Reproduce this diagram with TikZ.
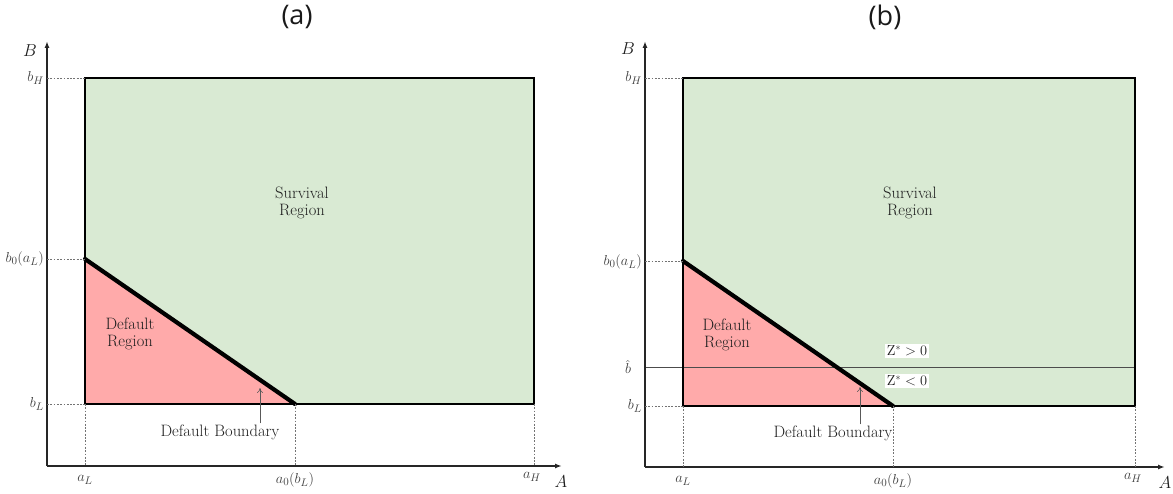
\documentclass[tikz,border=0pt]{standalone}
\usepackage{fontspec}
\newfontfamily\titlefont{Open Sans}
\usetikzlibrary{arrows.meta}
\definecolor{survgreen}{HTML}{D9EAD3}
\definecolor{defpink}{HTML}{FFAAAA}
\definecolor{txtgray}{HTML}{1E1E1E}
\tikzset{
  axisline/.style={line width=2pt, draw=black!85, -{Latex[length=7pt,width=5pt]}},
  guide/.style={draw=black!55, line width=0.6pt, dash pattern=on 1.8pt off 1.5pt},
  rectborder/.style={draw=black, line width=1.6pt},
  boundary/.style={draw=black, line width=4.2pt, line cap=round},
  lab/.style={text=txtgray!85, font=\fontsize{15}{17}\selectfont, inner sep=1pt},
  axlab/.style={text=txtgray, font=\fontsize{19}{21}\selectfont, inner sep=1pt},
  regionlab/.style={text=txtgray, font=\fontsize{16.5}{17.5}\selectfont, align=center, inner sep=1pt},
  ptr/.style={draw=black!65, line width=0.6pt, -{To[length=5pt,width=6pt]}},
  ttl/.style={font=\titlefont\fontsize{27}{29}\selectfont, text=black!90},
  zlab/.style={text=txtgray, fill=white, font=\fontsize{14.5}{16}\selectfont, inner sep=1.5pt}
}
\begin{document}
\begin{tikzpicture}[x=1pt,y=-1pt]
\useasboundingbox (0,0) rectangle (1173,494);
% ---------------- panel (a) ----------------
\node[ttl] (ta) at (297,17) {(a)};
\coordinate (aO) at (47,466);
\coordinate (aYtip) at (47,41);
\coordinate (aXtip) at (562,466);
\coordinate (aLL) at (85,404);
\coordinate (aUL) at (85,78);
\coordinate (aUR) at (534,78);
\coordinate (aLR) at (534,404);
\coordinate (aB0) at (85,259);
\coordinate (aA0) at (295,404);
\fill[survgreen] (aLL) rectangle (aUR);
\fill[defpink] (aLL) -- (aB0) -- (aA0) -- cycle;
\draw[rectborder] (aLL) rectangle (aUR);
\draw[boundary] (aB0) -- (aA0);
% axes
\draw[axisline] (aO) -- (aYtip);
\draw[axisline] (aO) -- (aXtip);
% guides
\coordinate (aYbH) at (47,78);
\coordinate (aYb0) at (47,259);
\coordinate (aYbL) at (47,404);
\coordinate (aXaL) at (85,466);
\coordinate (aXa0) at (295,466);
\coordinate (aXaH) at (534,466);
\draw[guide] (aYbH) -- (aUL);
\draw[guide] (aYb0) -- (aB0);
\draw[guide] (aYbL) -- (aLL);
\draw[guide] (aLL) -- (aXaL);
\draw[guide] (aA0) -- (aXa0);
\draw[guide] (aLR) -- (aXaH);
% labels
\node[axlab] (aBl) at (30,51) {$B$};
\node[axlab] (aAl) at (561,482) {$A$};
\node[lab, anchor=east] (abH) at (45,78) {$b_H$};
\node[lab, anchor=east] (ab0) at (45,259) {$b_0(a_L)$};
\node[lab, anchor=east] (abL) at (45,404) {$b_L$};
\node[lab] (aaL) at (85,480) {$a_L$};
\node[lab] (aa0) at (295,480) {$a_0(b_L)$};
\node[lab] (aaH) at (532,477) {$a_H$};
\node[regionlab] (asurv) at (302,203) {Survival\\Region};
\node[regionlab] (adef) at (130,334) {Default\\Region};
\node[regionlab] (adb) at (220,432) {Default Boundary};
\coordinate (aptr) at (260,388);
\draw[ptr] (adb.north -| aptr) -- (aptr);
% ---------------- panel (b) ----------------
\node[ttl] (tb) at (885,17) {(b)};
\coordinate (bO) at (645,467);
\coordinate (bYtip) at (645,41);
\coordinate (bXtip) at (1165,467);
\coordinate (bLL) at (683,406);
\coordinate (bUL) at (683,78);
\coordinate (bUR) at (1135,78);
\coordinate (bLR) at (1135,406);
\coordinate (bB0) at (683,261);
\coordinate (bA0) at (893,406);
\fill[survgreen] (bLL) rectangle (bUR);
\fill[defpink] (bLL) -- (bB0) -- (bA0) -- cycle;
% b-hat line
\coordinate (bYhat) at (645,367);
\coordinate (bRhat) at (1135,367);
\draw[black!70, line width=0.7pt] (bYhat) -- (bRhat);
\draw[rectborder] (bLL) rectangle (bUR);
\draw[boundary] (bB0) -- (bA0);
\draw[axisline, line width=1.6pt] (bO) -- (bYtip);
\draw[axisline, line width=1.6pt] (bO) -- (bXtip);
\coordinate (bYbH) at (645,78);
\coordinate (bYb0) at (645,261);
\coordinate (bYbL) at (645,406);
\coordinate (bXaL) at (683,467);
\coordinate (bXa0) at (893,467);
\coordinate (bXaH) at (1135,467);
\draw[guide] (bYbH) -- (bUL);
\draw[guide] (bYb0) -- (bB0);
\draw[guide] (bYbL) -- (bLL);
\draw[guide] (bLL) -- (bXaL);
\draw[guide] (bA0) -- (bXa0);
\draw[guide] (bLR) -- (bXaH);
\node[axlab] (bBl) at (628,49) {$B$};
\node[axlab] (bAl) at (1165,483) {$A$};
\node[lab, anchor=east] (bbH) at (643,78) {$b_H$};
\node[lab, anchor=east] (bb0) at (643,262) {$b_0(a_L)$};
\node[lab] (bbhat) at (628,367) {$\hat{b}$};
\node[lab, anchor=east] (bbL) at (643,406) {$b_L$};
\node[lab] (baL) at (683,481) {$a_L$};
\node[lab] (ba0) at (893,481) {$a_0(b_L)$};
\node[lab] (baH) at (1133,478) {$a_H$};
\node[regionlab] (bsurv) at (910,203) {Survival\\Region};
\node[regionlab] (bdef) at (727,335) {Default\\Region};
\node[zlab] (bzp) at (907,351) {$\mathrm{Z}^{*} > 0$};
\node[zlab] (bzn) at (907,381) {$\mathrm{Z}^{*} < 0$};
\node[regionlab] (bdb) at (833,433) {Default Boundary};
\coordinate (bptr) at (860,387);
\draw[ptr] (bdb.north -| bptr) -- (bptr);
\end{tikzpicture}
\end{document}
